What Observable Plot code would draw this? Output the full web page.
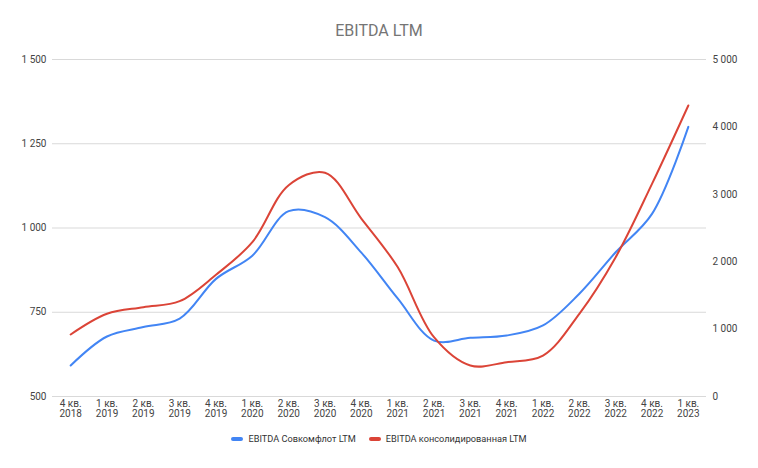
<!DOCTYPE html>
<html>
<head>
<meta charset="utf-8">
<script src="https://cdn.jsdelivr.net/npm/d3@7"></script>
<script src="https://cdn.jsdelivr.net/npm/@observablehq/plot@0.6"></script>
<style>
  body { margin: 0; background: #fff; font-family: Roboto, "Noto Sans", sans-serif; }
  #wrap { width: 758px; height: 468px; position: relative; overflow: hidden; }
  #title { height: 50px; box-sizing: border-box; padding-top: 22px; text-align: center;
           font-size: 16px; line-height: 18px; color: #757575; }
  #legend { display: flex; justify-content: center; align-items: center; gap: 13px;
            font-size: 9.2px; color: #333; margin-top: 3px; }
  .item { display: flex; align-items: center; gap: 5px; }
  .sw { width: 12px; height: 4px; border-radius: 2px; display: inline-block; }
</style>
</head>
<body>
<div id="wrap">
  <div id="title">EBITDA LTM</div>
  <div id="chart"></div>
  <div id="legend"></div>
</div>
<script>
const quarters = ["4 кв.\n2018","1 кв.\n2019","2 кв.\n2019","3 кв.\n2019","4 кв.\n2019","1 кв.\n2020","2 кв.\n2020","3 кв.\n2020","4 кв.\n2020","1 кв.\n2021","2 кв.\n2021","3 кв.\n2021","4 кв.\n2021","1 кв.\n2022","2 кв.\n2022","3 кв.\n2022","4 кв.\n2022","1 кв.\n2023"];
const sovcomflot = [592, 678, 706, 731, 849, 918, 1050, 1032, 927, 791, 666, 674, 681, 711, 805, 928, 1042, 1300];
const consolidated = [920, 1227, 1325, 1414, 1806, 2290, 3135, 3320, 2640, 1920, 880, 460, 509, 608, 1227, 2067, 3155, 4318];
const seriesNames = ["EBITDA Совкомфлот LTM", "EBITDA консолидированная LTM"];
const seriesColors = ["#4285f4", "#db4437"];
const leftTicks = [500, 750, 1000, 1250, 1500];
const rightTicks = [0, 1000, 2000, 3000, 4000, 5000];

const loc = d3.formatLocale({decimal: ",", thousands: " ", grouping: [3], currency: ["", ""]});
const fmt = loc.format(",d");
const toLeft = v => 500 + v / 5;

const data = quarters.map((q, i) => ({q, a: sovcomflot[i], b: consolidated[i]}));

const chart = Plot.plot({
  width: 758,
  height: 380,
  marginLeft: 52,
  marginRight: 52,
  marginTop: 9,
  marginBottom: 34,
  style: {fontFamily: "Roboto, sans-serif", fontSize: "10px", color: "#444", background: "#fff"},
  x: {type: "point", domain: quarters, padding: 0.5, round: false},
  y: {domain: [500, 1500]},
  marks: [
    Plot.gridY(leftTicks, {stroke: "#d9d9d9", strokeOpacity: 1, strokeWidth: 1}),
    Plot.axisY(leftTicks, {anchor: "left", tickSize: 0, tickPadding: 6, tickFormat: fmt, label: null}),
    Plot.axisY(rightTicks.map(toLeft), {anchor: "right", tickSize: 0, tickPadding: 6, tickFormat: d => fmt(Math.round((d - 500) * 5)), label: null}),
    Plot.axisX({tickSize: 0, tickPadding: 3, label: null, lineHeight: 1.0}),
    Plot.line(data, {x: "q", y: "a", stroke: seriesColors[0], strokeWidth: 2, curve: "catmull-rom"}),
    Plot.line(data, {x: "q", y: d => toLeft(d.b), stroke: seriesColors[1], strokeWidth: 2, curve: "catmull-rom"})
  ]
});
document.getElementById("chart").appendChild(chart);

const legend = document.getElementById("legend");
seriesNames.forEach((n, i) => {
  const it = document.createElement("span");
  it.className = "item";
  it.innerHTML = `<span class="sw" style="background:${seriesColors[i]}"></span><span>${n}</span>`;
  legend.appendChild(it);
});
</script>
</body>
</html>
